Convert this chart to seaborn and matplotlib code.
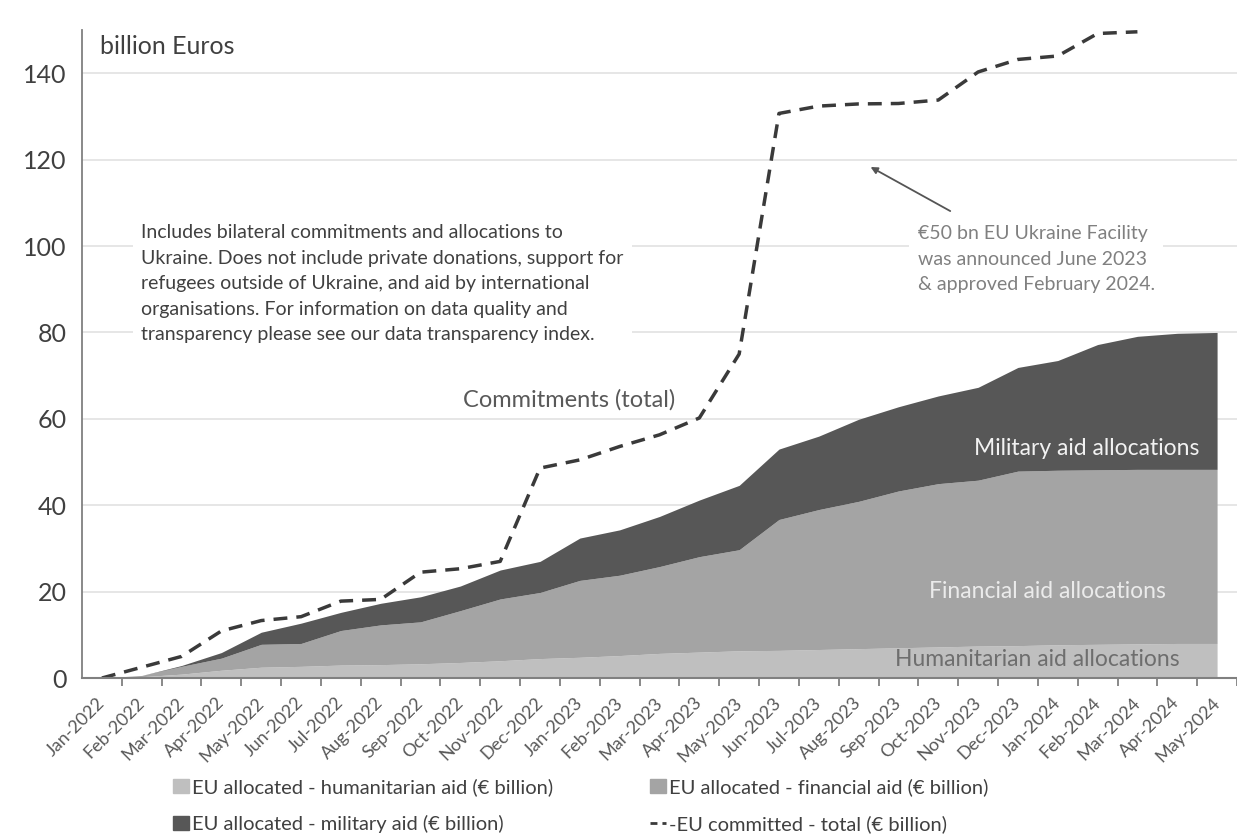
import numpy as np
import pandas as pd
import matplotlib.pyplot as plt
import seaborn as sns
from matplotlib.patches import Patch
from matplotlib.lines import Line2D

# Monatswerte (Mrd. Euro)
months = ['Jan-2022', 'Feb-2022', 'Mar-2022', 'Apr-2022', 'May-2022', 'Jun-2022',
          'Jul-2022', 'Aug-2022', 'Sep-2022', 'Oct-2022', 'Nov-2022', 'Dec-2022',
          'Jan-2023', 'Feb-2023', 'Mar-2023', 'Apr-2023', 'May-2023', 'Jun-2023',
          'Jul-2023', 'Aug-2023', 'Sep-2023', 'Oct-2023', 'Nov-2023', 'Dec-2023',
          'Jan-2024', 'Feb-2024', 'Mar-2024', 'Apr-2024', 'May-2024']

humanitarian = [0.0, 0.3, 0.9, 1.8, 2.5, 2.7, 3.0, 3.1, 3.3, 3.6, 4.0, 4.5,
                4.8, 5.2, 5.7, 6.0, 6.3, 6.4, 6.6, 6.8, 7.0, 7.2, 7.4, 7.5,
                7.7, 7.8, 7.9, 8.0, 8.0]
financial = [0.0, 0.3, 1.8, 2.8, 5.3, 5.3, 8.0, 9.2, 9.7, 12.0, 14.3, 15.3,
             17.8, 18.6, 20.1, 22.1, 23.4, 30.3, 32.4, 34.1, 36.3, 37.8, 38.4, 40.4,
             40.4, 40.4, 40.4, 40.3, 40.3]
military = [0.0, 0.0, 0.2, 1.3, 2.8, 4.7, 4.2, 5.0, 5.8, 5.7, 6.7, 7.2,
            9.8, 10.5, 11.6, 13.1, 14.9, 16.3, 17.0, 19.0, 19.5, 20.3, 21.5, 24.0,
            25.4, 29.0, 30.8, 31.5, 31.7]
# Zusagen gesamt, Jan-2022 bis Mar-2024
committed = [0.0, 2.5, 5.0, 10.9, 13.3, 14.2, 17.8, 18.2, 24.5, 25.3, 27.0, 48.6,
             50.5, 53.6, 56.3, 60.2, 75.0, 130.7, 132.4, 132.9, 133.0, 133.8, 140.3, 143.2,
             144.0, 149.2, 149.6]

labels = ['EU allocated - humanitarian aid (€ billion)',
          'EU allocated - financial aid (€ billion)',
          'EU allocated - military aid (€ billion)',
          '-EU committed - total (€ billion)']
colors = ['#bfbfbf', '#a4a4a4', '#575757']

sns.set_theme(style='white')
plt.rcParams['font.family'] = ['Lato', 'DejaVu Sans']

fig = plt.figure(figsize=(12.37, 8.35), dpi=100)
ax = fig.add_axes([0.0663, 0.188, 0.9337, 0.776])

x = np.arange(len(months))
ax.stackplot(x, humanitarian, financial, military, colors=colors, linewidth=0)

df = pd.DataFrame({'pos': x[:len(committed)], 'value': committed})
sns.lineplot(data=df, x='pos', y='value', ax=ax, color='#3a3a3a',
             linewidth=2.5, linestyle=(0, (4, 2.6)))
ax.set_xlabel('')
ax.set_ylabel('')

# Achsen
ax.set_xlim(-0.5, len(months) - 0.5)
ax.set_ylim(0, 150)
ax.set_xticks(x)
ax.set_xticklabels(months, rotation=45, ha='right', va='center',
                   rotation_mode='anchor', fontsize=13, color='#595959')
ax.set_xticks(np.arange(0.5, len(months), 1), minor=True)
ax.tick_params(axis='x', which='major', length=0, pad=16)
ax.tick_params(axis='x', which='minor', length=6, width=1.3, color='#808080',
               direction='out', bottom=True)
ax.set_yticks(range(0, 141, 20))
ax.tick_params(axis='y', length=0, pad=11, labelsize=18, labelcolor='#404040')

ax.yaxis.grid(True, color='#e4e4e4', linewidth=1.3)
ax.xaxis.grid(False)
ax.set_axisbelow(True)
sns.despine(ax=ax)
ax.spines['left'].set_color('#808080')
ax.spines['left'].set_linewidth(1.3)
ax.spines['bottom'].set_color('#808080')
ax.spines['bottom'].set_linewidth(1.5)

# Beschriftungen
ax.text(0.0156, 0.974, 'billion Euros', transform=ax.transAxes,
        fontsize=18, color='#404040', va='center')

note = ('Includes bilateral commitments and allocations to\n'
        'Ukraine. Does not include private donations, support for\n'
        'refugees outside of Ukraine, and aid by international\n'
        'organisations. For information on data quality and\n'
        'transparency please see our data transparency index.')
ax.text(0.98, 105, note, fontsize=14, color='#404040', va='top', ha='left',
        linespacing=1.6, zorder=5,
        bbox=dict(facecolor='white', edgecolor='none', pad=6))

facility = ('€50 bn EU Ukraine Facility\n'
            'was announced June 2023\n'
            '& approved February 2024.')
ax.text(20.48, 104.8, facility, fontsize=14, color='#808080', va='top', ha='left',
        linespacing=1.6, zorder=5,
        bbox=dict(facecolor='white', edgecolor='none', pad=6))
ax.annotate('', xy=(19.3, 118.3), xytext=(21.3, 108.1),
            arrowprops=dict(arrowstyle='-|>', color='#555555', lw=1.3,
                            mutation_scale=10, shrinkA=0, shrinkB=0))

ax.text(11.74, 64.4, 'Commitments (total)', fontsize=17, color='#595959',
        ha='center', va='center')
ax.text(27.56, 53.2, 'Military aid allocations', fontsize=16.5, color='#f2f2f2',
        ha='right', va='center')
ax.text(26.71, 20.1, 'Financial aid allocations', fontsize=16.5, color='#ebebeb',
        ha='right', va='center')
ax.text(27.06, 4.2, 'Humanitarian aid allocations', fontsize=16.5, color='#6e6e6e',
        ha='right', va='center')

# Legende
handles = [Patch(color=colors[0]), Patch(color=colors[2]),
           Patch(color=colors[1]),
           Line2D([], [], color='#3a3a3a', lw=2, linestyle=(0, (2.5, 1.8)))]
fig.legend(handles, [labels[0], labels[2], labels[1], labels[3]],
           loc='upper left', bbox_to_anchor=(155 / 1237, 1 - 760 / 835),
           ncol=2, frameon=False, fontsize=14.5, handlelength=0.8,
           handleheight=0.65, handletextpad=0.15, columnspacing=4.8,
           labelspacing=0.95, labelcolor='#404040')

fig.savefig('out.png', dpi=100)
